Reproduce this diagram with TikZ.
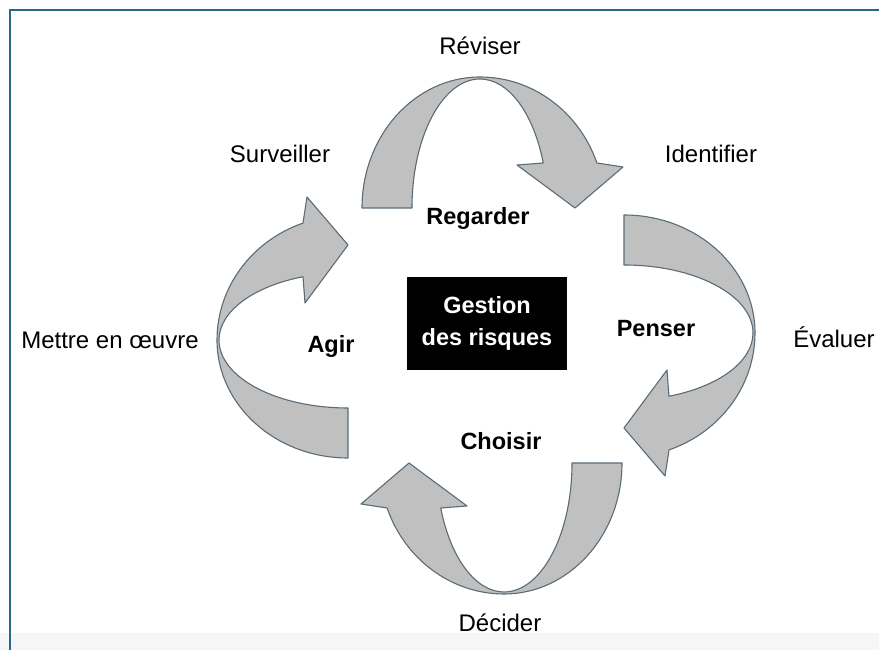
\documentclass[tikz,border=0pt]{standalone}
\usepackage{fontspec}
\setmainfont{Liberation Sans}
\definecolor{arrowfill}{RGB}{192,192,192}
\definecolor{arrowline}{RGB}{90,108,120}
\definecolor{framecol}{RGB}{40,105,135}
\definecolor{footband}{RGB}{244,246,247}
\tikzset{
  arrowbody/.style={fill=arrowfill, draw=arrowline, line width=1.1pt, line join=round},
  actword/.style={font=\fontsize{24}{28}\selectfont, anchor=base, inner sep=0pt},
  phaseword/.style={font=\fontsize{23.5}{28}\selectfont\bfseries, anchor=base, inner sep=0pt},
  corebox/.style={fill=black, text=white, minimum width=160, minimum height=93,
    inner sep=0pt, align=center, font=\fontsize{23.5}{32}\selectfont\bfseries},
  % a curved band that rises from its tail, pinches at the top and turns down into its head
  twistarrow/.pic={
    \path[arrowbody]
      (-118,0) arc[start angle=180, end angle=90, x radius=118, y radius=131]
      arc[start angle=90, end angle=20.1, x radius=124.5, y radius=131]
      -- (143,41) -- (95,0) -- (37,43) -- (63.25,45)
      arc[start angle=20.42, end angle=90, x radius=67.5, y radius=129]
      arc[start angle=90, end angle=180, x radius=68, y radius=129]
      -- cycle;
  }
}
\begin{document}
\begin{tikzpicture}[x=1pt,y=1pt]
\useasboundingbox (0,0) rectangle (879,650);
\fill[white] (0,0) rectangle (879,650);
\fill[footband] (0,0) rectangle (879,17);
\draw[framecol, line width=1.5pt] (10,0) -- (10,640) -- (879,640);

% the four turning arrows of the cycle
\pic at (480,442) {twistarrow};
\pic[rotate=-90] at (624,317) {twistarrow};
\pic[rotate=180] at (504,187) {twistarrow};
\pic[rotate=90] at (348,310) {twistarrow};

% centre
\node[corebox] (core) at (487,326.5) {Gestion\\des risques};

% phases
\node[phaseword] (regarder) at (478,425) {Regarder};
\node[phaseword] (penser) at (656,313) {Penser};
\node[phaseword] (choisir) at (501,200) {Choisir};
\node[phaseword] (agir) at (331,297) {Agir};

% actions
\node[actword] (reviser) at (480,595) {Réviser};
\node[actword] (identifier) at (711,487) {Identifier};
\node[actword] (evaluer) at (834,302) {Évaluer};
\node[actword] (decider) at (500,18) {Décider};
\node[actword] (mettre) at (110,301) {Mettre en œuvre};
\node[actword] (surveiller) at (280,487) {Surveiller};
\end{tikzpicture}
\end{document}
